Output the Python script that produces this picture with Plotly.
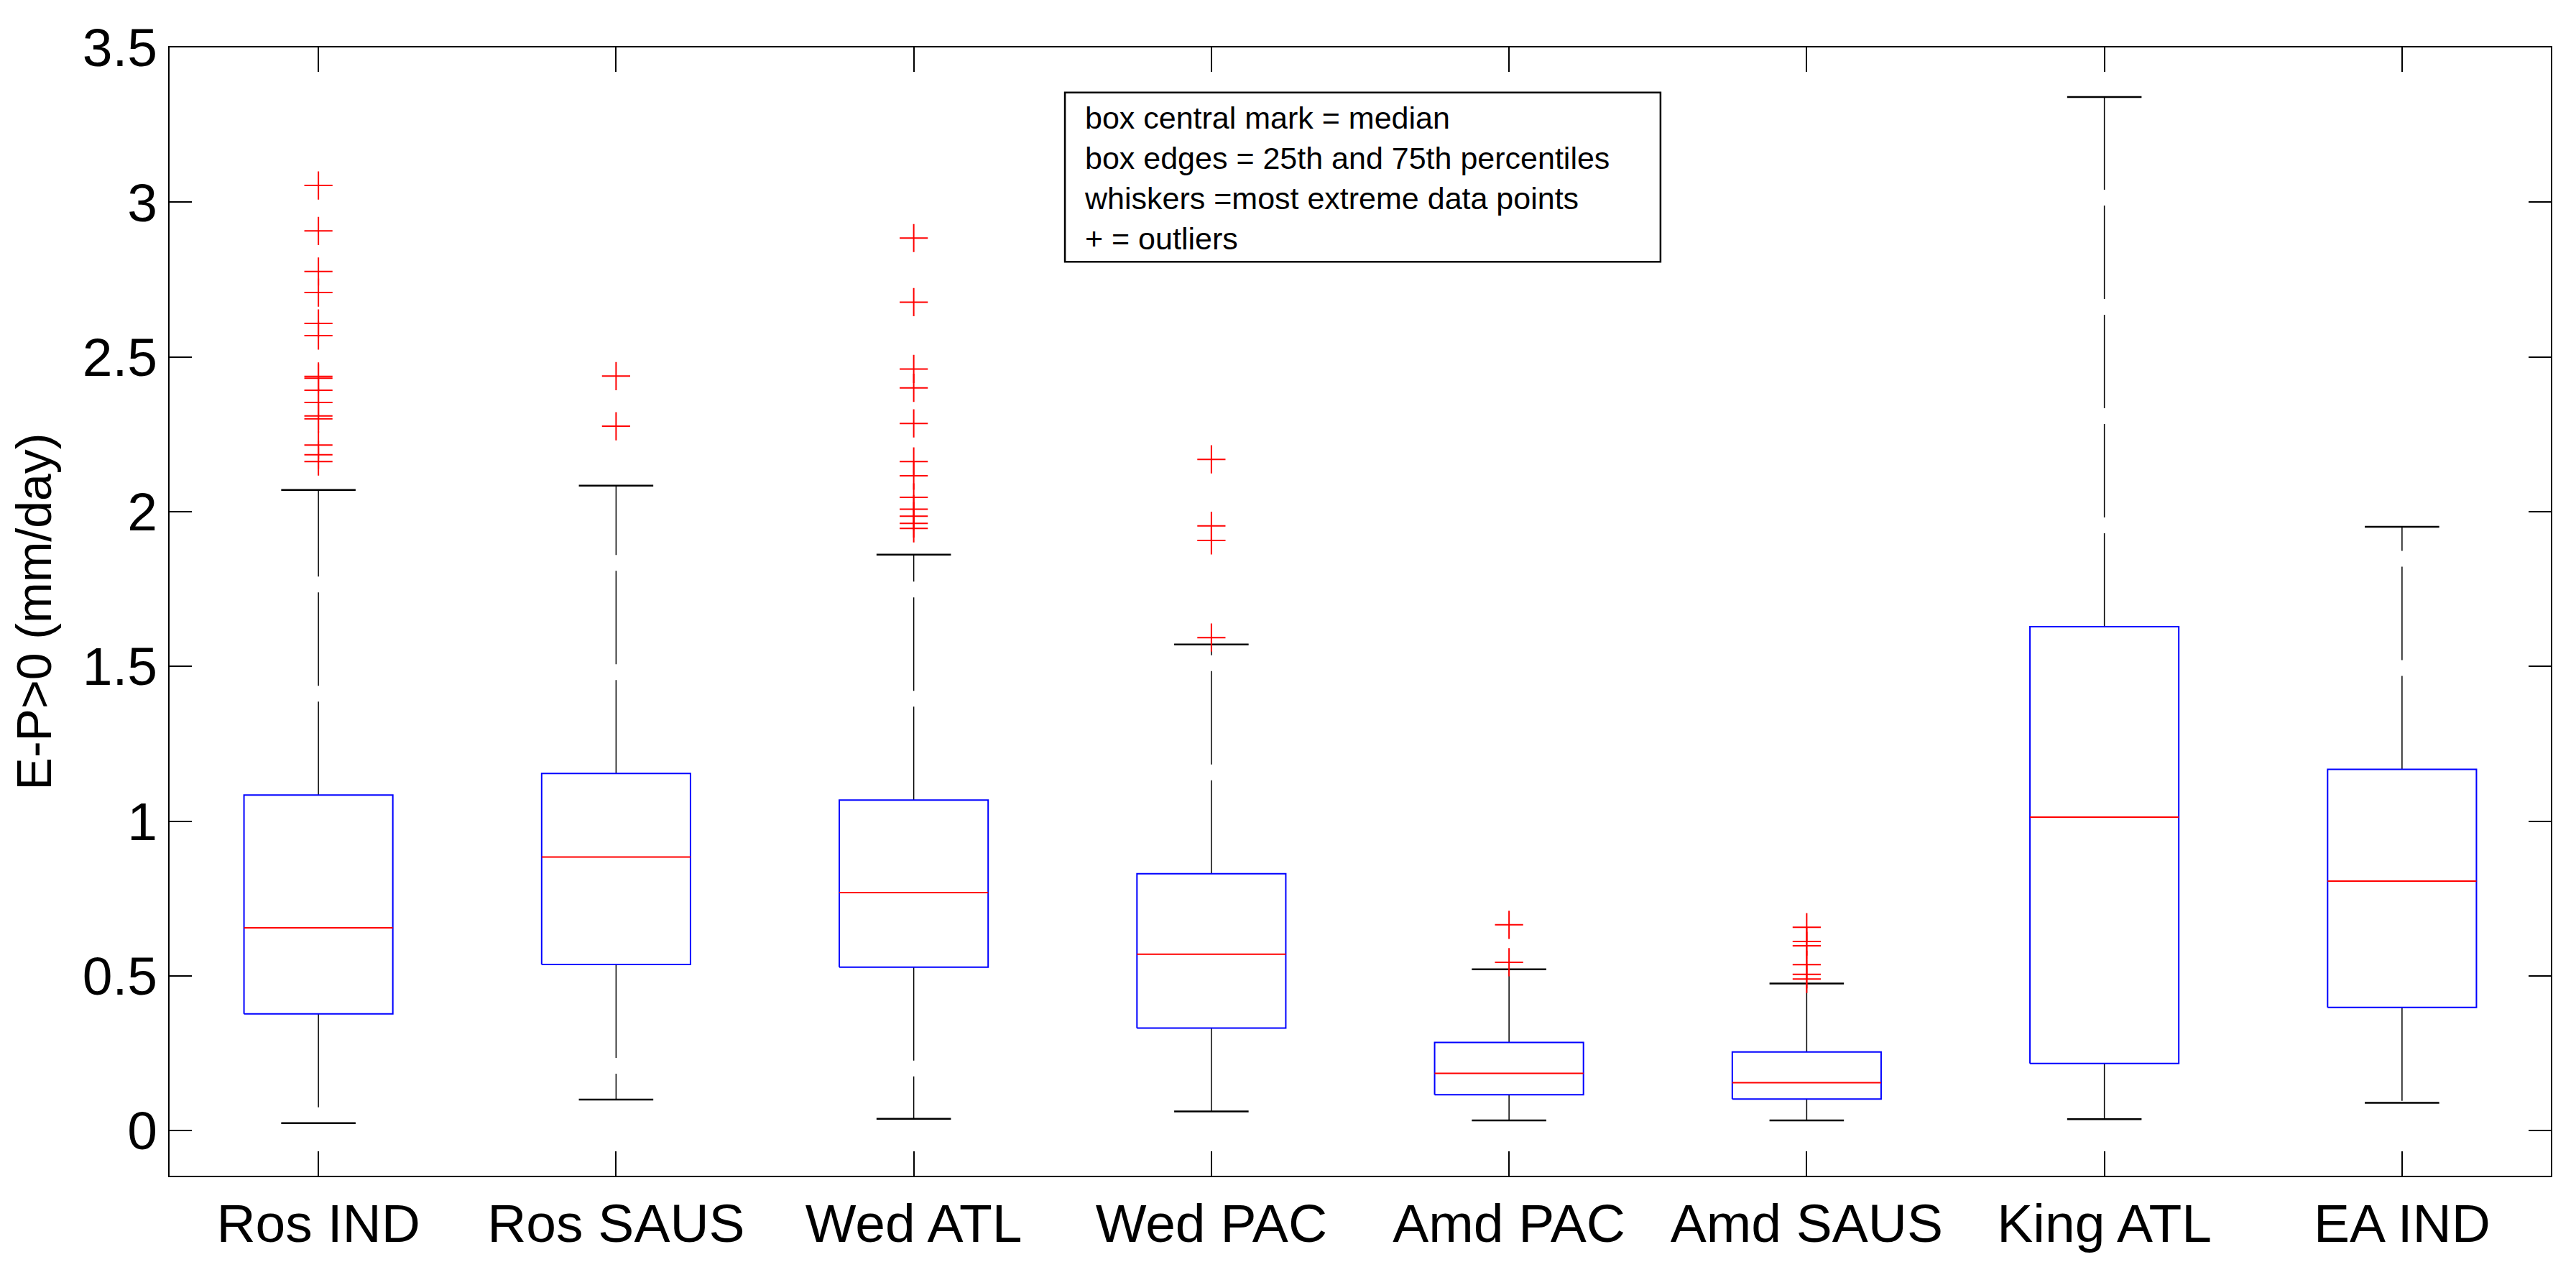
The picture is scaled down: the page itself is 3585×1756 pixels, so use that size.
import plotly.graph_objects as go

# E-P>0 statistics per region
categories = ["Ros IND", "Ros SAUS", "Wed ATL", "Wed PAC",
              "Amd PAC", "Amd SAUS", "King ATL", "EA IND"]
q1 = [0.377, 0.537, 0.528, 0.331, 0.116, 0.102, 0.217, 0.398]
median = [0.655, 0.884, 0.769, 0.570, 0.185, 0.155, 1.013, 0.806]
q3 = [1.084, 1.154, 1.068, 0.830, 0.285, 0.254, 1.628, 1.167]
whisker_low = [0.024, 0.100, 0.038, 0.062, 0.033, 0.033, 0.037, 0.090]
whisker_high = [2.070, 2.084, 1.861, 1.571, 0.521, 0.475, 3.340, 1.951]

out_ros_ind = [3.054, 2.907, 2.776, 2.708, 2.608, 2.569, 2.437, 2.431,
               2.392, 2.353, 2.309, 2.300, 2.215, 2.184, 2.162]
out_ros_saus = [2.438, 2.276]
out_wed_atl = [2.884, 2.677, 2.461, 2.400, 2.285, 2.162, 2.116, 2.046,
               2.008, 1.985, 1.962, 1.946]
out_wed_pac = [2.169, 1.954, 1.907, 1.593]
out_amd_pac = [0.665, 0.544]
out_amd_saus = [0.657, 0.611, 0.597, 0.536, 0.505, 0.490]
out_king_atl = []
out_ea_ind = []

outliers = [out_ros_ind, out_ros_saus, out_wed_atl, out_wed_pac,
            out_amd_pac, out_amd_saus, out_king_atl, out_ea_ind]

legend_text = ("box central mark = median<br>"
               "box edges = 25th and 75th percentiles<br>"
               "whiskers =most extreme data points<br>"
               "+ = outliers")

FONT = "Liberation Sans, Arial, sans-serif"
half_box = 0.25
half_cap = 0.125

pos = list(range(1, len(categories) + 1))

box_x, box_y = [], []
med_x, med_y = [], []
wh_x, wh_y = [], []
cap_x, cap_y = [], []
ol_x, ol_y = [], []
for p, a, m, b, lo, hi, ol in zip(pos, q1, median, q3, whisker_low, whisker_high, outliers):
    box_x += [p - half_box, p + half_box, p + half_box, p - half_box, p - half_box, None]
    box_y += [a, a, b, b, a, None]
    med_x += [p - half_box, p + half_box, None]
    med_y += [m, m, None]
    wh_x += [p, p, None, p, p, None]
    wh_y += [b, hi, None, a, lo, None]
    cap_x += [p - half_cap, p + half_cap, None, p - half_cap, p + half_cap, None]
    cap_y += [hi, hi, None, lo, lo, None]
    ol_x += [p] * len(ol)
    ol_y += ol

fig = go.Figure()
fig.add_trace(go.Scatter(x=wh_x, y=wh_y, mode="lines",
                         line=dict(color="black", width=1.5, dash="130px,22px")))
fig.add_trace(go.Scatter(x=cap_x, y=cap_y, mode="lines",
                         line=dict(color="black", width=2.5)))
fig.add_trace(go.Scatter(x=box_x, y=box_y, mode="lines",
                         line=dict(color="#0000ff", width=2)))
fig.add_trace(go.Scatter(x=med_x, y=med_y, mode="lines",
                         line=dict(color="#ff0000", width=2)))
fig.add_trace(go.Scatter(x=ol_x, y=ol_y, mode="markers",
                         marker=dict(symbol="cross-thin", size=28, color="#ff0000",
                                     line=dict(color="#ff0000", width=2))))

fig.update_layout(
    width=3585, height=1756,
    margin=dict(l=236, r=35, t=66, b=115),
    paper_bgcolor="white", plot_bgcolor="white",
    showlegend=False,
    font=dict(family=FONT, color="black", size=75),
)
fig.update_xaxes(
    range=[0.5, 8.5], tickvals=pos, ticktext=categories,
    showline=True, linecolor="black", linewidth=2, mirror="ticks",
    ticks="inside", ticklen=34, tickwidth=2, tickcolor="black",
    showgrid=False, zeroline=False,
    tickfont=dict(family=FONT, size=75),
)
fig.update_yaxes(
    range=[-0.146, 3.5], dtick=0.5, tick0=0,
    showline=True, linecolor="black", linewidth=2, mirror="ticks",
    ticks="inside", ticklen=31, tickwidth=2, tickcolor="black",
    showgrid=False, zeroline=False,
    tickfont=dict(family=FONT, size=75),
    title=dict(text="E-P>0 (mm/day)", font=dict(family=FONT, size=68), standoff=21),
)

# explanatory text box
fig.add_shape(type="rect", xref="paper", yref="paper",
              x0=0.376, x1=0.6261, y0=0.810, y1=0.960,
              line=dict(color="black", width=2.5), fillcolor="white", layer="above")
fig.add_annotation(xref="paper", yref="paper", x=0.3835, y=0.9543,
                   xanchor="left", yanchor="top", align="left", showarrow=False,
                   text=legend_text, font=dict(family=FONT, size=43, color="black"))

fig.write_html("out.html", config={"displayModeBar": False},
               post_script="document.body.style.margin='0';")
